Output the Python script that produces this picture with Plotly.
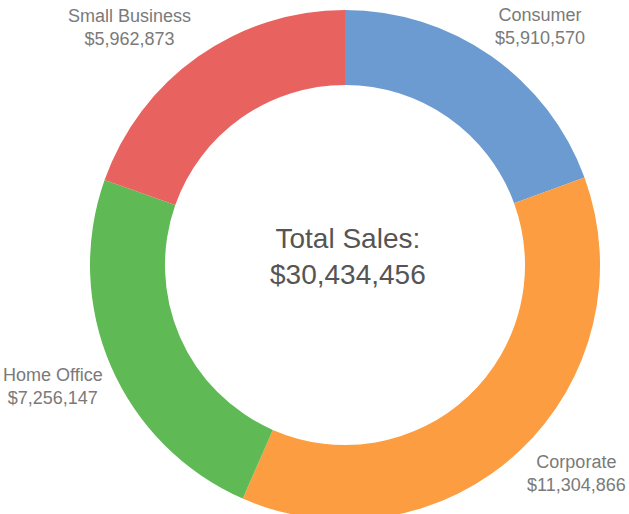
import plotly.graph_objects as go

segments = ["Consumer", "Corporate", "Home Office", "Small Business"]
sales = [5910570, 11304866, 7256147, 5962873]
colors = ["#6b9bd1", "#fb9d40", "#5fba55", "#e8625f"]

total = sum(sales)

W, H = 629, 540

fig = go.Figure(go.Pie(
    labels=segments,
    values=sales,
    hole=0.706,
    sort=False,
    direction="clockwise",
    rotation=0,
    marker=dict(colors=colors, line=dict(width=0)),
    textinfo="none",
    hoverinfo="label+value",
    showlegend=False,
    domain=dict(x=[90 / W, 600 / W], y=[1 - 520 / H, 1 - 10 / H]),
))

# label anchor positions in pixels (center of the two-line block)
label_px = {
    "Consumer": (540, 26.5),
    "Small Business": (129, 27),
    "Home Office": (53, 386),
    "Corporate": (576, 473),
}
for name, val in zip(segments, sales):
    px, py = label_px[name]
    fig.add_annotation(
        x=px / W, y=1 - py / H, xref="paper", yref="paper",
        text=f"{name}<br>${val:,}", showarrow=False,
        align="center", xanchor="center", yanchor="middle",
        font=dict(family="Liberation Sans, Arial", size=18, color="#7a7a7a"),
    )

fig.add_annotation(
    x=348 / W, y=1 - 257 / H, xref="paper", yref="paper",
    text=f"Total Sales:<br>${total:,}", showarrow=False,
    align="center",
    font=dict(family="Liberation Sans, Arial", size=28, color="#555555"),
)

fig.update_layout(
    width=W, height=H,
    margin=dict(l=0, r=0, t=0, b=0),
    paper_bgcolor="white", plot_bgcolor="white",
)

fig.write_html(
    "out.html",
    config={"displayModeBar": False},
    post_script="document.body.style.margin='0px';",
)
